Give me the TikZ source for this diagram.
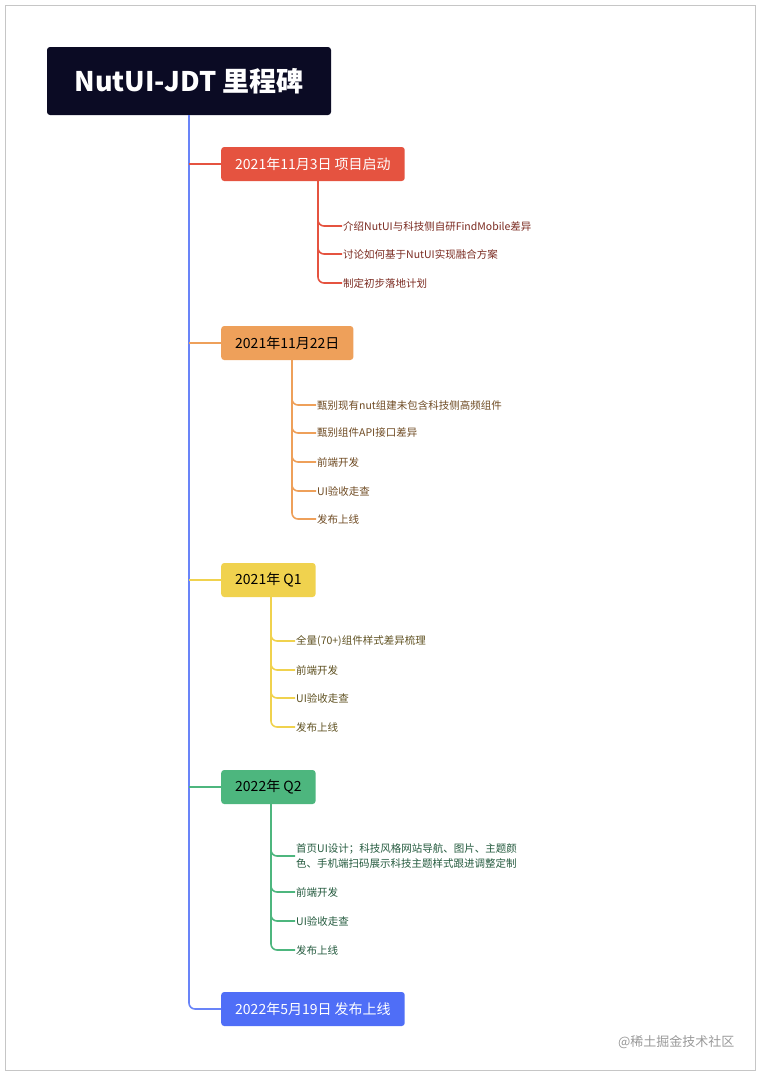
\documentclass[tikz,border=0pt]{standalone}
\usepackage{fontspec}
\setmainfont{Noto Sans CJK SC}
\usetikzlibrary{positioning}
\definecolor{navy}{HTML}{0B0B24}
\definecolor{cred}{HTML}{E55340}
\definecolor{corange}{HTML}{EEA05A}
\definecolor{cyellow}{HTML}{F0D24E}
\definecolor{cgreen}{HTML}{4DB67E}
\definecolor{cblue}{HTML}{4F6EF7}
\definecolor{tred}{HTML}{7A2A20}
\definecolor{torange}{HTML}{6E4A22}
\definecolor{tyellow}{HTML}{5E5020}
\definecolor{tgreen}{HTML}{245A3E}
\tikzset{
  stage/.style={rounded corners=3pt, minimum height=34pt, anchor=west, inner xsep=14pt, font=\fontsize{14}{16}\selectfont},
  item/.style={anchor=west, inner sep=1pt, font=\fontsize{10.5}{15}\selectfont, align=left},
  bracket/.style={line width=1.6pt, rounded corners=6pt}
}
\begin{document}
\begin{tikzpicture}[x=1pt, y=-1pt]
        \useasboundingbox (0,0) rectangle (762,1076);
        \draw [gray!45, line width=0.8pt] (5,5) rectangle (755,1070);

        \node [fill=navy, text=white, rounded corners=3pt, minimum width=284pt, minimum height=68pt, font=\fontsize{27}{30}\selectfont\bfseries] (title) at (189,81) {NutUI-JDT 里程碑};

        \node [stage, fill=cred, text=white] (s1) at (221,164) {2021年11月3日 项目启动};
        \node [stage, fill=corange, text=black] (s2) at (221,343) {2021年11月22日};
        \node [stage, fill=cyellow, text=black] (s3) at (221,580) {2021年 Q1};
        \node [stage, fill=cgreen, text=black] (s4) at (221,787) {2022年 Q2};
        \node [stage, fill=cblue, text=white] (s5) at (221,1009) {2022年5月19日 发布上线};

        % spine
        \draw [cblue!85, bracket] (title.south) |- (s5.west);
        \draw [cred, line width=1.6pt] (189,164) -- (s1.west);
        \draw [corange, line width=1.6pt] (189,343) -- (s2.west);
        \draw [cyellow, line width=1.6pt] (189,580) -- (s3.west);
        \draw [cgreen, line width=1.6pt] (189,787) -- (s4.west);

        % sub items
        \foreach \y/\t [count=\i] in {226/介绍NutUI与科技侧自研FindMobile差异, 254/讨论如何基于NutUI实现融合方案, 283/制定初步落地计划} {
            \node [item, text=tred] (r\i) at (342,\y) {\t};
            \draw [cred, bracket] (318,181) |- (r\i.west);
        }
        \foreach \y/\t [count=\i] in {405/甄别现有nut组建未包含科技侧高频组件, 433/甄别组件API接口差异, 462/前端开发, 491/UI验收走查, 519/发布上线} {
            \node [item, text=torange] (o\i) at (316,\y) {\t};
            \draw [corange, bracket] (292,360) |- (o\i.west);
        }
        \foreach \y/\t [count=\i] in {641/全量(70+)组件样式差异梳理, 670/前端开发, 698/UI验收走查, 727/发布上线} {
            \node [item, text=tyellow] (y\i) at (295,\y) {\t};
            \draw [cyellow, bracket] (271,597) |- (y\i.west);
        }
        \foreach \y/\t [count=\i] in {856/{首页UI设计；科技风格网站导航、图片、主题颜\\色、手机端扫码展示科技主题样式跟进调整定制}, 892/前端开发, 921/UI验收走查, 950/发布上线} {
            \node [item, text=tgreen] (g\i) at (295,\y) {\t};
            \draw [cgreen, bracket] (271,804) |- (g\i.west);
        }

        \node [anchor=east, text=gray!80, font=\fontsize{13}{15}\selectfont] (mark) at (738,1042) {@稀土掘金技术社区};
    \end{tikzpicture}
\end{document}
